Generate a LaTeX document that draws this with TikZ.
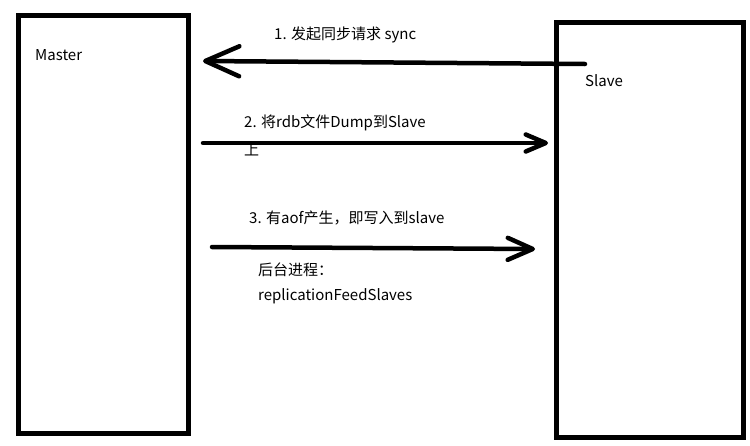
\documentclass[tikz,border=0pt]{standalone}
\usepackage{fontspec}
\setmainfont{Noto Sans CJK SC}
\usetikzlibrary{arrows.meta}

\tikzset{
  box/.style={draw, line width=5pt, inner sep=0pt},
  label/.style={anchor=west, inner sep=0pt, font=\fontsize{15}{18}\selectfont},
  sync/.style={line width=4.5pt, line cap=round}
}

\begin{document}
\begin{tikzpicture}[x=1pt, y=-1pt]
 \useasboundingbox (0,0) rectangle (750,445);
 % Boxes
 \node[box, minimum width=170pt, minimum height=418pt] (master) at (103,224) {};
 \node[box, minimum width=187pt, minimum height=415pt] (slave) at (649.5,229.5) {};
 \node[label] (mastername) at (35,55) {Master};
 \node[label] (slavename) at (585,81) {Slave};
 % Arrow ends
 \coordinate (a1) at (585,64);
 \coordinate (b1) at (203,61);
 \coordinate (a2) at (203,143);
 \coordinate (b2) at (548,143);
 \coordinate (a3) at (212,247);
 \coordinate (b3) at (535,249);
 % Arrows
 \draw[sync, -{Straight Barb[length=34pt,width=30pt,round]}] (a1) -- (b1);
 \draw[sync, -{Straight Barb[length=20pt,width=17pt,round]}] (a2) -- (b2);
 \draw[sync, -{Straight Barb[length=25pt,width=22pt,round]}] (a3) -- (b3);
 % Labels
 \node[label] (step1) at (274,35) {1. 发起同步请求 sync};
 \node[label] (step2) at (244,123) {2. 将rdb文件Dump到Slave};
 \node[label] (step2b) at (244,150) {上};
 \node[label] (step3) at (249,218) {3. 有aof产生，即写入到slave};
 \node[label] (bg) at (258,270) {后台进程：};
 \node[label] (feed) at (258,296) {replicationFeedSlaves};
\end{tikzpicture}
\end{document}
